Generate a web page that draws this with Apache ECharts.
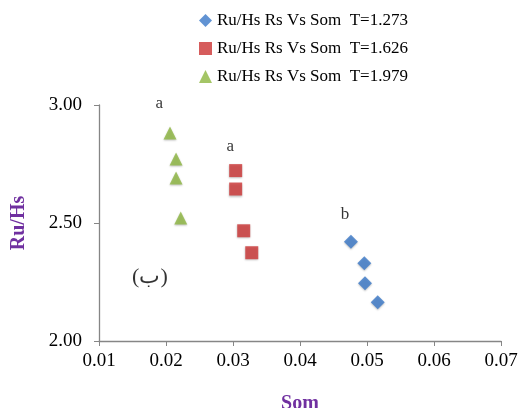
<!DOCTYPE html>
<html><head><meta charset="utf-8">
<script src="https://cdn.jsdelivr.net/npm/echarts@6/dist/echarts.min.js"></script>
<style>html,body{margin:0;padding:0;background:#fff}#c{width:519px;height:408px}</style>
</head><body><div id="c"></div>
<script>
const seriesNames = ['Ru/Hs Rs Vs Som  T=1.273', 'Ru/Hs Rs Vs Som  T=1.626', 'Ru/Hs Rs Vs Som  T=1.979'];
const blueSom = [0.0476, 0.0496, 0.0497, 0.0516];
const blueRuHs = [2.421, 2.329, 2.245, 2.164];
const redSom = [0.0304, 0.0304, 0.0316, 0.0328];
const redRuHs = [2.722, 2.644, 2.467, 2.374];
const greenSom = [0.0206, 0.0215, 0.0215, 0.0222];
const greenRuHs = [2.881, 2.771, 2.691, 2.521];
const noteText = ['a', 'a', 'b', '(ب)'];
const noteSom = [0.0190, 0.0296, 0.0467, 0.0176];
const noteRuHs = [3.008, 2.822, 2.538, 2.271];
const xTicks = [0.01, 0.02, 0.03, 0.04, 0.05, 0.06, 0.07];
const yTicks = [2.00, 2.50, 3.00];

const pair = (xs, ys) => xs.map((x, i) => [x, ys[i]]);
const font = '"Liberation Serif", "DejaVu Serif", serif';
const chart = echarts.init(document.getElementById('c'), null, {renderer: 'canvas'});
chart.setOption({
  animation: false,
  grid: {left: 99, right: 18, top: 105, bottom: 67, containLabel: false, outerBoundsMode: 'none'},
  legend: {
    orient: 'vertical', left: 194, top: 7, itemGap: 11,
    itemWidth: 13, itemHeight: 13,
    textStyle: {fontFamily: font, fontSize: 17, color: '#000', lineHeight: 17},
    data: seriesNames
  },
  xAxis: {
    type: 'value', min: xTicks[0], max: xTicks[xTicks.length - 1], interval: 0.01,
    name: 'Som', nameLocation: 'middle', nameGap: 53,
    nameTextStyle: {fontFamily: font, fontSize: 20, fontWeight: 'bold', color: '#7030A0'},
    splitLine: {show: false},
    axisLine: {lineStyle: {color: '#868686', width: 1.3}},
    axisTick: {show: true, length: 5, lineStyle: {color: '#868686'}},
    axisLabel: {margin: 11, fontFamily: font, fontSize: 19, color: '#000',
      formatter: v => v.toFixed(2)}
  },
  yAxis: {
    type: 'value', min: yTicks[0], max: yTicks[yTicks.length - 1], interval: 0.5,
    name: 'Ru/Hs', nameLocation: 'middle', nameGap: 70, nameRotate: 90,
    nameTextStyle: {fontFamily: font, fontSize: 20, fontWeight: 'bold', color: '#7030A0'},
    splitLine: {show: false},
    axisLine: {show: true, lineStyle: {color: '#868686', width: 1.3}},
    axisTick: {show: true, length: 5, lineStyle: {color: '#868686'}},
    axisLabel: {margin: 17, fontFamily: font, fontSize: 19, color: '#000',
      formatter: v => v.toFixed(2)}
  },
  series: [
    {name: seriesNames[0], type: 'scatter', symbol: 'diamond', symbolSize: 14,
     itemStyle: {color: '#3A78C8', shadowColor: 'rgba(0,0,0,0.3)', shadowBlur: 2, shadowOffsetY: 1},
     data: pair(blueSom, blueRuHs)},
    {name: seriesNames[1], type: 'scatter', symbol: 'rect', symbolSize: 13,
     itemStyle: {color: '#CC3333', shadowColor: 'rgba(0,0,0,0.3)', shadowBlur: 2, shadowOffsetY: 1},
     data: pair(redSom, redRuHs)},
    {name: seriesNames[2], type: 'scatter', symbol: 'triangle', symbolSize: 13,
     itemStyle: {color: '#8DB640', shadowColor: 'rgba(0,0,0,0.3)', shadowBlur: 2, shadowOffsetY: 1},
     data: pair(greenSom, greenRuHs)},
    {type: 'scatter', symbolSize: 0, clip: false, silent: true,
     label: {show: true, position: 'inside', formatter: p => noteText[p.dataIndex],
       fontFamily: font, fontSize: 17, color: '#000'},
     data: pair(noteSom, noteRuHs).map((v, i) => ({
       value: v,
       label: noteText[i].length > 1 ? {fontSize: 22} : {}
     }))}
  ]
});
</script></body></html>
